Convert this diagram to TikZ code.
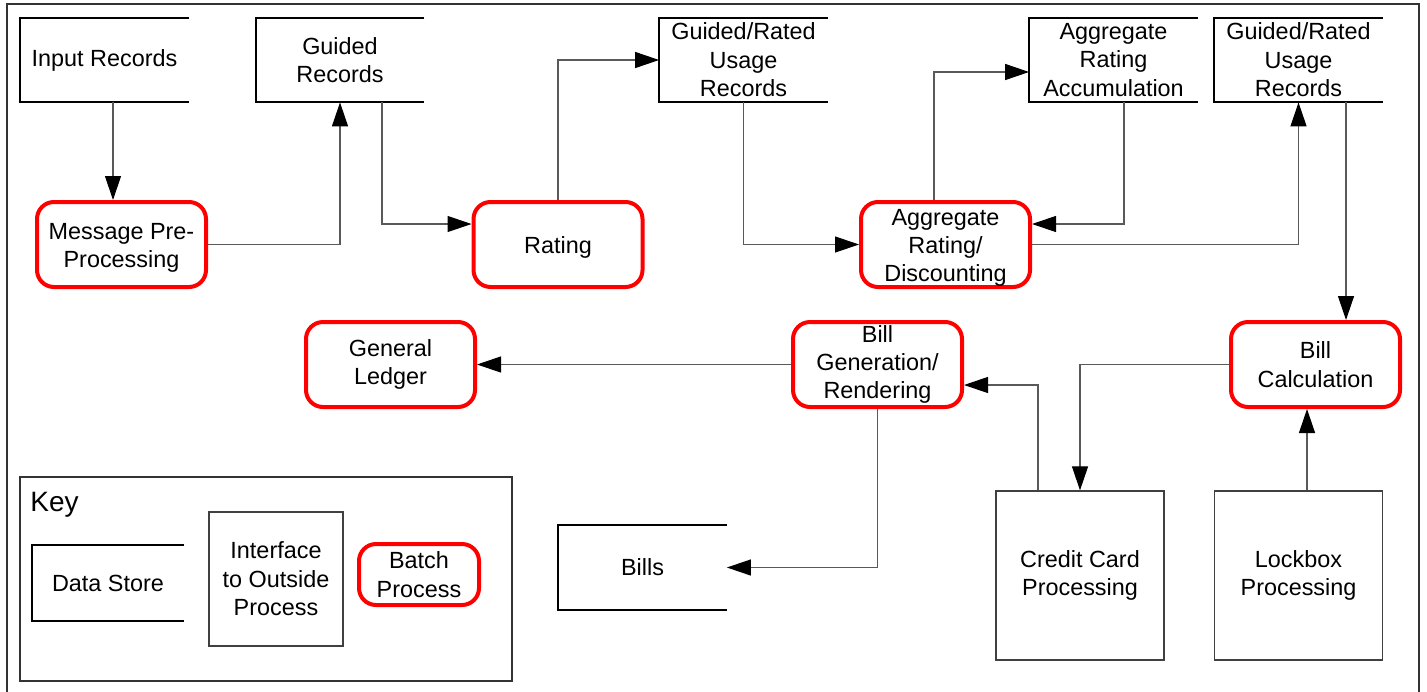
\documentclass[tikz,border=0pt]{standalone}
\usepackage{fontspec}
\setmainfont{Liberation Sans}
\usetikzlibrary{arrows.meta}
% taller first line: pushes a node's text a little lower
\newcommand{\dropstrut}{\rule{0pt}{11.4pt}}
\begin{document}
\begin{tikzpicture}[x=0.5pt,y=-0.5pt,
  txt/.style={font=\fontsize{11.7}{14.2}\selectfont,align=center},
  store/.style={txt,inner sep=0pt,minimum width=84pt,minimum height=42pt},
  batch/.style={txt,inner sep=0pt,draw=red,line width=2pt,rounded corners=8.5pt,
    minimum width=84.5pt,minimum height=42.5pt},
  outside/.style={txt,inner sep=0pt,draw=black!75,line width=0.65pt,
    minimum width=84pt,minimum height=84.5pt},
  storeline/.style={draw=black,line width=1pt},
  conn/.style={draw=black!65,line width=0.6pt,
    -{Triangle[black,length=12pt,width=8pt]}},
  frameline/.style={draw=black!80,line width=1pt}]
\useasboundingbox (0,0) rectangle (1427,691);

% outer frame, open at the foot of the page
\draw[frameline] (6.5,700) -- (6.5,4) -- (1419,4) -- (1419,700);

% data stores
\node[store] (inrec)  at (104.5,60)  {Input Records};
\node[store] (guided) at (340,60)    {Guided\\Records};
\node[store] (grur1)  at (743.5,60)  {Guided/Rated\\Usage\\Records};
\node[store] (ara)    at (1113.5,60) {Aggregate\\Rating\\Accumulation};
\node[store] (grur2)  at (1298.5,60) {Guided/Rated\\Usage\\Records};
\node[store] (bills)  at (642.5,567.5) {Bills};

% batch processes
\node[batch] (msg)      at (121.5,244.5)  {\dropstrut Message Pre-\\Processing};
\node[batch] (rating)   at (558,244.5)    {\dropstrut Rating};
\node[batch] (aggrd)    at (945.5,244.5)  {\dropstrut Aggregate\\Rating/\\Discounting};
\node[batch] (gl)       at (390.5,364.5)  {General\\Ledger};
\node[batch] (billgen)  at (877.5,364.5)  {Bill\\Generation/\\Rendering};
\node[batch] (billcalc) at (1315.5,364.5) {Bill\\Calculation};

% interfaces to outside processes
\node[outside] (credit)  at (1080,575.5)   {Credit Card\\Processing};
\node[outside] (lockbox) at (1298.5,575.5) {Lockbox\\Processing};

% key
\node[draw=black!80,line width=1pt,inner sep=0pt,minimum width=246pt,minimum height=102pt]
  (keybox) at (266,579) {};
\node[anchor=west,inner sep=0pt,font=\fontsize{14}{17}\selectfont] (keytitle) at (30,505) {Key};
\node[store,minimum width=76pt,minimum height=38pt] (keystore) at (108,583) {Data Store};
\node[outside,minimum width=67pt,minimum height=67pt] (keyiface) at (276,579)
  {Interface\\to Outside\\Process};
\node[batch,minimum width=60pt,minimum height=30.5pt] (keybatch) at (419,574.5)
  {Batch\\Process};

% open-ended data store outlines
\foreach \n in {inrec,guided,grur1,ara,grur2,bills,keystore}
  \draw[storeline] (\n.north east) -- (\n.north west) -- (\n.south west) -- (\n.south east);

% flows
\draw[conn] ([xshift=4.25pt]inrec.south) -- ([xshift=4.25pt]inrec.south |- msg.north);
\draw[conn] (msg.east) -| (guided.south);
\draw[conn] ([xshift=21pt]guided.south) |- ([yshift=10.25pt]rating.west);
\draw[conn] (rating.north) |- (grur1.west);
\draw[conn] (grur1.south) |- (aggrd.west);
\draw[conn] ([xshift=-5.75pt]aggrd.north) |- ([yshift=-6pt]ara.west);
\draw[conn] ([xshift=5.25pt]ara.south) |- ([yshift=10.25pt]aggrd.east);
\draw[conn] (aggrd.east) -| (grur2.south);
\draw[conn] ([xshift=23.75pt]grur2.south) -- ([xshift=23.75pt]grur2.south |- billcalc.north);
\draw[conn] (billcalc.west) -| (credit.north);
\draw[conn] ([xshift=-21pt]credit.north) |- ([yshift=-10.25pt]billgen.east);
\draw[conn] ([xshift=4.25pt]lockbox.north) -- ([xshift=4.25pt]lockbox.north |- billcalc.south);
\draw[conn] (billgen.west) -- (gl.east);
\draw[conn] (billgen.south) |- (bills.east);
\end{tikzpicture}
\end{document}
